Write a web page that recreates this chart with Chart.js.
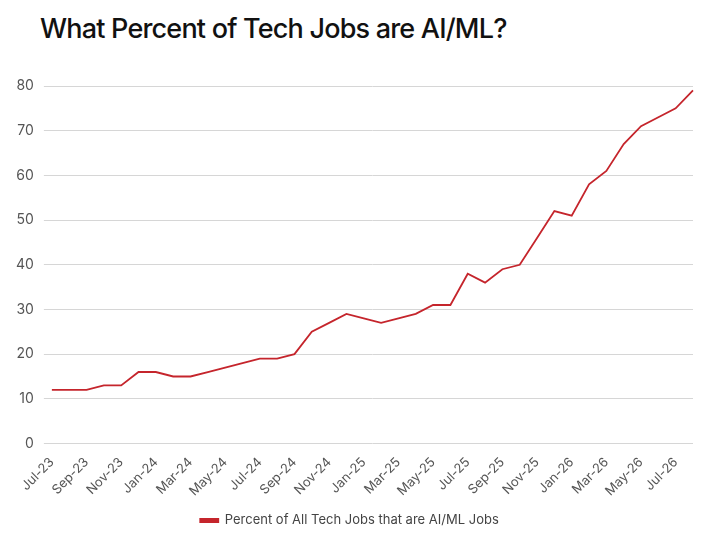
<!DOCTYPE html>
<html>
<head>
<meta charset="utf-8">
<script src="https://cdn.jsdelivr.net/npm/chart.js@4"></script>
<style>
  html, body { margin: 0; padding: 0; background: #fff; }
  h1 {
    margin: 0; padding: 12px 0 0 40px; height: 50px; box-sizing: border-box;
    font-family: Inter, sans-serif; font-weight: 500; font-size: 27px;
    letter-spacing: -0.8px; color: #111;
  }
  #wrap { width: 711px; height: 493px; }
</style>
</head>
<body>
<h1>What Percent of Tech Jobs are AI/ML?</h1>
<div id="wrap"><canvas id="chart"></canvas></div>
<script>
const months = [
  "Jul-23", "Aug-23", "Sep-23", "Oct-23", "Nov-23", "Dec-23",
  "Jan-24", "Feb-24", "Mar-24", "Apr-24", "May-24", "Jun-24",
  "Jul-24", "Aug-24", "Sep-24", "Oct-24", "Nov-24", "Dec-24",
  "Jan-25", "Feb-25", "Mar-25", "Apr-25", "May-25", "Jun-25",
  "Jul-25", "Aug-25", "Sep-25", "Oct-25", "Nov-25", "Dec-25",
  "Jan-26", "Feb-26", "Mar-26", "Apr-26", "May-26", "Jun-26",
  "Jul-26", "Aug-26",
];
const aiMlShare = [
  12, 12, 12, 13, 13, 16,
  16, 15, 15, 16, 17, 18,
  19, 19, 20, 25, 27, 29,
  28, 27, 28, 29, 31, 31,
  38, 36, 39, 40, 46, 52,
  51, 58, 61, 67, 71, 73,
  75, 79,
];
const seriesLabel = "Percent of All Tech Jobs that are AI/ML Jobs";
const lineColor = "#c5252c";

new Chart(document.getElementById("chart"), {
  type: "line",
  data: {
    labels: months,
    datasets: [
      {
        label: seriesLabel,
        data: aiMlShare,
        borderColor: lineColor,
        backgroundColor: lineColor,
        borderWidth: 1.8,
        pointRadius: 0,
        tension: 0,
      },
    ],
  },
  options: {
    responsive: true,
    maintainAspectRatio: false,
    animation: false,
    layout: { padding: { left: 6, right: 18, top: 36, bottom: 6 } },
    plugins: {
      legend: {
        position: "bottom",
        labels: {
          color: "#444",
          font: { family: "Inter", size: 13 },
          boxWidth: 18,
          boxHeight: 3,
          padding: 12,
        },
      },
      tooltip: { enabled: false },
    },
    scales: {
      x: {
        grid: { display: false },
        border: { display: false },
        ticks: {
          color: "#555",
          font: { family: "Inter", size: 13 },
          maxRotation: 45,
          minRotation: 45,
          autoSkip: true,
        },
      },
      y: {
        min: 0,
        max: 80,
        grid: { color: "#d6d6d6" },
        border: { display: false },
        ticks: {
          stepSize: 10,
          color: "#555",
          padding: 10,
          font: { family: "Inter", size: 14 },
        },
      },
    },
  },
});
</script>
</body>
</html>
